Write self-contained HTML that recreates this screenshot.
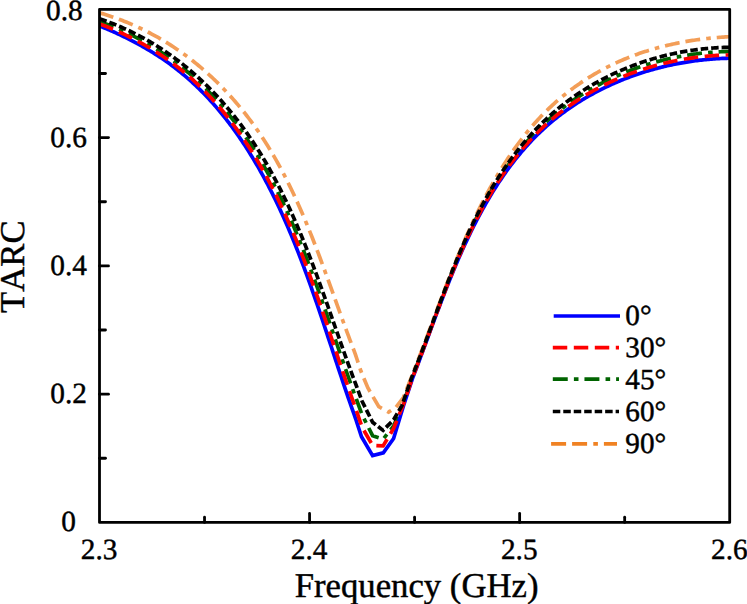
<!DOCTYPE html>
<html><head><meta charset="utf-8"><title>TARC</title>
<style>html,body{margin:0;padding:0;background:#fff;}svg{display:block;}</style>
</head><body>
<svg width="747" height="604" viewBox="0 0 747 604">
<rect width="747" height="604" fill="#ffffff"/>
<defs><clipPath id="ax"><rect x="99.50" y="9.35" width="630.20" height="513.05"/></clipPath></defs>
<g clip-path="url(#ax)" fill="none" stroke-width="3.70" stroke-linejoin="miter">
<path d="M99.50,12.75 L100.94,13.18 L102.38,13.61 L103.82,14.05 L105.25,14.50 L106.69,14.96 L108.13,15.43 L109.57,15.91 L111.01,16.39 L112.45,16.88 L113.89,17.39 L115.32,17.90 L116.76,18.42 L118.20,18.95 L119.64,19.49 L121.08,20.03 L122.52,20.59 L123.95,21.16 L125.39,21.73 L126.83,22.31 L128.27,22.91 L129.71,23.51 L131.15,24.13 L132.59,24.75 L134.03,25.38 L135.46,26.02 L136.90,26.68 L138.34,27.34 L139.78,28.01 L141.22,28.70 L142.66,29.39 L144.09,30.09 L145.53,30.81 L146.97,31.53 L148.41,32.27 L149.85,33.01 L151.29,33.77 L152.73,34.54 L154.16,35.32 L155.60,36.11 L157.04,36.92 L158.48,37.73 L159.92,38.56 L161.36,39.40 L162.80,40.25 L164.24,41.11 L165.67,41.98 L167.11,42.87 L168.55,43.77 L169.99,44.68 L171.43,45.61 L172.87,46.54 L174.30,47.49 L175.74,48.46 L177.18,49.43 L178.62,50.42 L180.06,51.43 L181.50,52.44 L182.94,53.47 L184.37,54.52 L185.81,55.57 L187.25,56.64 L188.69,57.73 L190.13,58.83 L191.57,59.94 L193.01,61.07 L194.44,62.22 L195.88,63.37 L197.32,64.55 L198.76,65.74 L200.20,66.94 L201.64,68.16 L203.07,69.39 L204.51,70.65 L205.95,71.91 L207.39,73.20 L208.83,74.50 L210.27,75.81 L211.71,77.15 L213.15,78.50 L214.58,79.87 L216.02,81.25 L217.46,82.66 L218.90,84.08 L220.34,85.52 L221.78,86.98 L223.22,88.46 L224.65,89.96 L226.09,91.48 L227.53,93.01 L228.97,94.57 L230.41,96.15 L231.85,97.75 L233.28,99.37 L234.72,101.02 L236.16,102.68 L237.60,104.37 L239.04,106.08 L240.48,107.82 L241.92,109.58 L243.35,111.36 L244.79,113.17 L246.23,115.00 L247.67,116.86 L249.11,118.75 L250.55,120.67 L251.99,122.61 L253.43,124.58 L254.86,126.59 L256.30,128.62 L257.74,130.68 L259.18,132.78 L260.62,134.91 L262.06,137.07 L263.49,139.27 L264.93,141.50 L266.37,143.77 L267.81,146.07 L269.25,148.41 L270.69,150.78 L272.13,153.20 L273.56,155.65 L275.00,158.14 L276.44,160.67 L277.88,163.24 L279.32,165.85 L280.76,168.50 L282.20,171.20 L283.63,173.93 L285.07,176.71 L286.51,179.53 L287.95,182.40 L289.39,185.31 L290.83,188.27 L292.26,191.27 L293.70,194.32 L295.14,197.41 L296.58,200.55 L298.02,203.73 L299.46,206.96 L300.90,210.24 L302.33,213.56 L303.77,216.93 L305.21,220.34 L306.65,223.80 L308.09,227.29 L309.53,230.84 L310.97,234.42 L312.40,238.05 L313.84,241.72 L315.28,245.42 L316.72,249.17 L318.16,252.94 L319.60,256.75 L321.04,260.59 L322.48,264.46 L323.91,268.36 L325.35,272.28 L326.79,276.22 L328.23,280.18 L329.67,284.16 L331.11,288.14 L332.55,292.14 L333.98,296.14 L335.42,300.14 L336.86,304.14 L338.30,308.14 L339.74,312.13 L341.18,316.10 L342.62,320.07 L344.05,324.01 L345.49,327.93 L346.93,331.83 L348.37,335.70 L349.81,339.54 L351.25,343.35 L352.68,347.12 L354.12,350.85 L355.56,354.87 L357.00,359.24 L360.80,370.80 L367.80,387.80 L378.80,406.70 L388.60,412.10 L396.00,407.30 L403.40,397.50 L404.00,395.97 L405.49,392.19 L406.97,388.41 L408.46,384.63 L409.95,380.85 L411.44,377.07 L412.92,373.31 L414.41,369.53 L415.90,365.72 L417.38,361.87 L418.87,358.00 L420.36,354.11 L421.85,350.19 L423.33,346.26 L424.82,342.31 L426.31,338.35 L427.80,334.37 L429.28,330.39 L430.77,326.40 L432.26,322.42 L433.74,318.43 L435.23,314.44 L436.72,310.47 L438.21,306.50 L439.69,302.55 L441.18,298.61 L442.67,294.69 L444.15,290.80 L445.64,286.92 L447.13,283.07 L448.62,279.25 L450.10,275.45 L451.59,271.69 L453.08,267.96 L454.56,264.27 L456.05,260.61 L457.54,256.99 L459.03,253.40 L460.51,249.86 L462.00,246.35 L463.49,242.89 L464.98,239.47 L466.46,236.08 L467.95,232.75 L469.44,229.45 L470.93,226.19 L472.41,222.98 L473.90,219.82 L475.39,216.69 L476.87,213.61 L478.36,210.57 L479.85,207.57 L481.33,204.61 L482.82,201.70 L484.31,198.82 L485.80,195.99 L487.28,193.20 L488.77,190.44 L490.26,187.73 L491.75,185.06 L493.23,182.42 L494.72,179.82 L496.21,177.27 L497.69,174.74 L499.18,172.26 L500.67,169.82 L502.16,167.41 L503.64,165.04 L505.13,162.70 L506.62,160.40 L508.11,158.14 L509.59,155.91 L511.08,153.71 L512.57,151.56 L514.05,149.43 L515.54,147.34 L517.03,145.28 L518.52,143.26 L520.00,141.27 L521.49,139.31 L522.98,137.38 L524.46,135.49 L525.95,133.62 L527.44,131.79 L528.93,129.98 L530.41,128.21 L531.90,126.47 L533.39,124.75 L534.88,123.06 L536.36,121.40 L537.85,119.77 L539.34,118.17 L540.82,116.59 L542.31,115.05 L543.80,113.52 L545.28,112.03 L546.77,110.56 L548.26,109.11 L549.75,107.69 L551.23,106.29 L552.72,104.92 L554.21,103.57 L555.70,102.24 L557.18,100.93 L558.67,99.65 L560.16,98.38 L561.64,97.14 L563.13,95.92 L564.62,94.71 L566.11,93.53 L567.59,92.36 L569.08,91.21 L570.57,90.08 L572.05,88.97 L573.54,87.87 L575.03,86.79 L576.52,85.73 L578.00,84.68 L579.49,83.66 L580.98,82.64 L582.47,81.65 L583.95,80.66 L585.44,79.70 L586.93,78.75 L588.41,77.81 L589.90,76.89 L591.39,75.98 L592.88,75.09 L594.36,74.21 L595.85,73.34 L597.34,72.49 L598.83,71.65 L600.31,70.83 L601.80,70.01 L603.29,69.22 L604.77,68.43 L606.26,67.66 L607.75,66.90 L609.24,66.15 L610.72,65.41 L612.21,64.69 L613.70,63.98 L615.18,63.28 L616.67,62.59 L618.16,61.91 L619.65,61.25 L621.13,60.59 L622.62,59.95 L624.11,59.32 L625.60,58.70 L627.08,58.10 L628.57,57.50 L630.06,56.91 L631.54,56.34 L633.03,55.77 L634.52,55.22 L636.00,54.67 L637.49,54.14 L638.98,53.61 L640.47,53.10 L641.95,52.60 L643.44,52.10 L644.93,51.61 L646.42,51.14 L647.90,50.67 L649.39,50.21 L650.88,49.76 L652.37,49.32 L653.85,48.89 L655.34,48.47 L656.83,48.05 L658.31,47.65 L659.80,47.25 L661.29,46.86 L662.77,46.48 L664.26,46.11 L665.75,45.74 L667.24,45.38 L668.72,45.04 L670.21,44.69 L671.70,44.36 L673.19,44.03 L674.67,43.72 L676.16,43.40 L677.65,43.10 L679.13,42.80 L680.62,42.51 L682.11,42.23 L683.60,41.96 L685.08,41.69 L686.57,41.43 L688.06,41.17 L689.54,40.93 L691.03,40.69 L692.52,40.45 L694.01,40.23 L695.49,40.01 L696.98,39.79 L698.47,39.59 L699.96,39.39 L701.44,39.19 L702.93,39.01 L704.42,38.83 L705.90,38.65 L707.39,38.48 L708.88,38.32 L710.37,38.17 L711.85,38.02 L713.34,37.87 L714.83,37.74 L716.32,37.60 L717.80,37.48 L719.29,37.36 L720.78,37.25 L722.26,37.14 L723.75,37.04 L725.24,36.94 L726.73,36.85 L728.21,36.77 L729.70,36.69" stroke="#f39e58" stroke-dasharray="14.9 5.95 14.9 6.1 4.6 5.97" stroke-dashoffset="0.4"/>
<path d="M99.50,21.53 L100.94,22.05 L102.38,22.58 L103.82,23.11 L105.25,23.65 L106.69,24.20 L108.13,24.76 L109.57,25.33 L111.01,25.91 L112.45,26.50 L113.89,27.09 L115.32,27.70 L116.76,28.31 L118.20,28.93 L119.64,29.56 L121.08,30.20 L122.52,30.85 L123.95,31.51 L125.39,32.18 L126.83,32.86 L128.27,33.55 L129.71,34.25 L131.15,34.96 L132.59,35.68 L134.03,36.40 L135.46,37.14 L136.90,37.89 L138.34,38.65 L139.78,39.42 L141.22,40.20 L142.66,40.99 L144.09,41.79 L145.53,42.61 L146.97,43.43 L148.41,44.27 L149.85,45.12 L151.29,45.97 L152.73,46.84 L154.16,47.73 L155.60,48.62 L157.04,49.53 L158.48,50.45 L159.92,51.38 L161.36,52.32 L162.80,53.28 L164.24,54.25 L165.67,55.23 L167.11,56.23 L168.55,57.24 L169.99,58.27 L171.43,59.30 L172.87,60.36 L174.30,61.42 L175.74,62.50 L177.18,63.60 L178.62,64.71 L180.06,65.84 L181.50,66.98 L182.94,68.14 L184.37,69.31 L185.81,70.50 L187.25,71.71 L188.69,72.93 L190.13,74.17 L191.57,75.43 L193.01,76.70 L194.44,77.99 L195.88,79.30 L197.32,80.62 L198.76,81.97 L200.20,83.33 L201.64,84.71 L203.07,86.10 L204.51,87.52 L205.95,88.96 L207.39,90.41 L208.83,91.88 L210.27,93.38 L211.71,94.89 L213.15,96.42 L214.58,97.98 L216.02,99.55 L217.46,101.15 L218.90,102.76 L220.34,104.40 L221.78,106.06 L223.22,107.74 L224.65,109.45 L226.09,111.17 L227.53,112.92 L228.97,114.70 L230.41,116.50 L231.85,118.32 L233.28,120.17 L234.72,122.04 L236.16,123.93 L237.60,125.86 L239.04,127.81 L240.48,129.78 L241.92,131.79 L243.35,133.82 L244.79,135.88 L246.23,137.97 L247.67,140.09 L249.11,142.23 L250.55,144.41 L251.99,146.62 L253.43,148.86 L254.86,151.13 L256.30,153.44 L257.74,155.78 L259.18,158.15 L260.62,160.56 L262.06,163.00 L263.49,165.47 L264.93,167.98 L266.37,170.53 L267.81,173.12 L269.25,175.74 L270.69,178.40 L272.13,181.10 L273.56,183.84 L275.00,186.62 L276.44,189.44 L277.88,192.30 L279.32,195.20 L280.76,198.14 L282.20,201.13 L283.63,204.16 L285.07,207.23 L286.51,210.34 L287.95,213.50 L289.39,216.71 L290.83,219.96 L292.26,223.25 L293.70,226.59 L295.14,229.97 L296.58,233.40 L298.02,236.87 L299.46,240.39 L300.90,243.95 L302.33,247.55 L303.77,251.20 L305.21,254.89 L306.65,258.63 L308.09,262.40 L309.53,266.22 L310.97,270.07 L312.40,273.97 L313.84,277.90 L315.28,281.86 L316.72,285.86 L318.16,289.88 L319.60,293.94 L321.04,298.03 L322.48,302.14 L323.91,306.27 L325.35,310.42 L326.79,314.59 L328.23,318.77 L329.67,322.96 L331.11,327.16 L332.55,331.37 L333.98,335.58 L335.42,339.79 L336.86,343.99 L338.30,348.18 L339.74,352.37 L341.18,356.54 L342.62,360.70 L344.05,364.83 L345.49,368.95 L346.93,373.04 L348.37,377.10 L349.81,381.13 L351.25,385.13 L352.68,389.09 L354.12,393.02 L355.56,396.92 L357.00,400.99 L362.10,414.80 L372.60,435.70 L383.10,439.20 L393.60,426.00 L404.00,401.39 L405.49,397.04 L406.97,392.68 L408.46,388.33 L409.95,383.97 L411.44,379.62 L412.92,375.53 L414.41,371.76 L415.90,367.95 L417.38,364.11 L418.87,360.24 L420.36,356.33 L421.85,352.40 L423.33,348.44 L424.82,344.47 L426.31,340.47 L427.80,336.47 L429.28,332.45 L430.77,328.44 L432.26,324.42 L433.74,320.40 L435.23,316.39 L436.72,312.39 L438.21,308.40 L439.69,304.43 L441.18,300.48 L442.67,296.55 L444.15,292.65 L445.64,288.78 L447.13,284.94 L448.62,281.14 L450.10,277.37 L451.59,273.64 L453.08,269.96 L454.56,266.31 L456.05,262.71 L457.54,259.15 L459.03,255.64 L460.51,252.17 L462.00,248.75 L463.49,245.38 L464.98,242.06 L466.46,238.78 L467.95,235.55 L469.44,232.38 L470.93,229.25 L472.41,226.16 L473.90,223.13 L475.39,220.14 L476.87,217.20 L478.36,214.31 L479.85,211.47 L481.33,208.67 L482.82,205.91 L484.31,203.20 L485.80,200.53 L487.28,197.91 L488.77,195.33 L490.26,192.79 L491.75,190.29 L493.23,187.84 L494.72,185.42 L496.21,183.05 L497.69,180.71 L499.18,178.40 L500.67,176.14 L502.16,173.91 L503.64,171.72 L505.13,169.56 L506.62,167.44 L508.11,165.35 L509.59,163.30 L511.08,161.28 L512.57,159.29 L514.05,157.33 L515.54,155.40 L517.03,153.51 L518.52,151.64 L520.00,149.81 L521.49,148.00 L522.98,146.22 L524.46,144.47 L525.95,142.75 L527.44,141.06 L528.93,139.39 L530.41,137.75 L531.90,136.14 L533.39,134.55 L534.88,132.99 L536.36,131.46 L537.85,129.95 L539.34,128.46 L540.82,127.00 L542.31,125.56 L543.80,124.15 L545.28,122.75 L546.77,121.38 L548.26,120.04 L549.75,118.71 L551.23,117.41 L552.72,116.13 L554.21,114.86 L555.70,113.62 L557.18,112.40 L558.67,111.20 L560.16,110.01 L561.64,108.85 L563.13,107.70 L564.62,106.57 L566.11,105.46 L567.59,104.36 L569.08,103.28 L570.57,102.22 L572.05,101.17 L573.54,100.14 L575.03,99.12 L576.52,98.12 L578.00,97.14 L579.49,96.17 L580.98,95.21 L582.47,94.27 L583.95,93.34 L585.44,92.43 L586.93,91.53 L588.41,90.64 L589.90,89.76 L591.39,88.90 L592.88,88.05 L594.36,87.22 L595.85,86.39 L597.34,85.58 L598.83,84.78 L600.31,84.00 L601.80,83.22 L603.29,82.46 L604.77,81.70 L606.26,80.96 L607.75,80.23 L609.24,79.51 L610.72,78.81 L612.21,78.11 L613.70,77.42 L615.18,76.75 L616.67,76.08 L618.16,75.43 L619.65,74.78 L621.13,74.15 L622.62,73.52 L624.11,72.91 L625.60,72.31 L627.08,71.71 L628.57,71.13 L630.06,70.55 L631.54,69.99 L633.03,69.43 L634.52,68.89 L636.00,68.35 L637.49,67.82 L638.98,67.31 L640.47,66.80 L641.95,66.30 L643.44,65.81 L644.93,65.32 L646.42,64.85 L647.90,64.39 L649.39,63.93 L650.88,63.49 L652.37,63.05 L653.85,62.62 L655.34,62.20 L656.83,61.79 L658.31,61.38 L659.80,60.99 L661.29,60.60 L662.77,60.23 L664.26,59.86 L665.75,59.49 L667.24,59.14 L668.72,58.80 L670.21,58.46 L671.70,58.13 L673.19,57.81 L674.67,57.50 L676.16,57.20 L677.65,56.90 L679.13,56.61 L680.62,56.33 L682.11,56.06 L683.60,55.80 L685.08,55.54 L686.57,55.29 L688.06,55.05 L689.54,54.82 L691.03,54.59 L692.52,54.38 L694.01,54.17 L695.49,53.97 L696.98,53.77 L698.47,53.59 L699.96,53.41 L701.44,53.24 L702.93,53.08 L704.42,52.92 L705.90,52.78 L707.39,52.64 L708.88,52.51 L710.37,52.38 L711.85,52.27 L713.34,52.16 L714.83,52.06 L716.32,51.96 L717.80,51.88 L719.29,51.80 L720.78,51.73 L722.26,51.67 L723.75,51.62 L725.24,51.57 L726.73,51.53 L728.21,51.50 L729.70,51.48" stroke="#006400" stroke-dasharray="14.95 6.15 4.6 5.95"/>
<path d="M99.50,25.97 L100.94,26.54 L102.38,27.13 L103.82,27.71 L105.25,28.31 L106.69,28.91 L108.13,29.52 L109.57,30.13 L111.01,30.76 L112.45,31.39 L113.89,32.03 L115.32,32.67 L116.76,33.33 L118.20,33.99 L119.64,34.66 L121.08,35.33 L122.52,36.02 L123.95,36.71 L125.39,37.41 L126.83,38.12 L128.27,38.84 L129.71,39.57 L131.15,40.31 L132.59,41.05 L134.03,41.81 L135.46,42.57 L136.90,43.34 L138.34,44.13 L139.78,44.92 L141.22,45.72 L142.66,46.53 L144.09,47.35 L145.53,48.19 L146.97,49.03 L148.41,49.88 L149.85,50.75 L151.29,51.62 L152.73,52.51 L154.16,53.41 L155.60,54.32 L157.04,55.24 L158.48,56.18 L159.92,57.12 L161.36,58.08 L162.80,59.05 L164.24,60.04 L165.67,61.04 L167.11,62.05 L168.55,63.08 L169.99,64.12 L171.43,65.18 L172.87,66.25 L174.30,67.33 L175.74,68.44 L177.18,69.56 L178.62,70.69 L180.06,71.84 L181.50,73.01 L182.94,74.20 L184.37,75.41 L185.81,76.63 L187.25,77.87 L188.69,79.13 L190.13,80.41 L191.57,81.71 L193.01,83.03 L194.44,84.36 L195.88,85.72 L197.32,87.10 L198.76,88.49 L200.20,89.91 L201.64,91.35 L203.07,92.80 L204.51,94.28 L205.95,95.78 L207.39,97.30 L208.83,98.85 L210.27,100.41 L211.71,102.00 L213.15,103.61 L214.58,105.24 L216.02,106.90 L217.46,108.58 L218.90,110.28 L220.34,112.01 L221.78,113.76 L223.22,115.54 L224.65,117.34 L226.09,119.16 L227.53,121.02 L228.97,122.89 L230.41,124.80 L231.85,126.73 L233.28,128.68 L234.72,130.67 L236.16,132.68 L237.60,134.72 L239.04,136.79 L240.48,138.89 L241.92,141.01 L243.35,143.17 L244.79,145.35 L246.23,147.57 L247.67,149.82 L249.11,152.10 L250.55,154.40 L251.99,156.75 L253.43,159.12 L254.86,161.53 L256.30,163.97 L257.74,166.44 L259.18,168.95 L260.62,171.49 L262.06,174.07 L263.49,176.69 L264.93,179.34 L266.37,182.03 L267.81,184.76 L269.25,187.53 L270.69,190.34 L272.13,193.18 L273.56,196.07 L275.00,199.00 L276.44,201.97 L277.88,204.99 L279.32,208.04 L280.76,211.14 L282.20,214.29 L283.63,217.48 L285.07,220.71 L286.51,223.99 L287.95,227.31 L289.39,230.68 L290.83,234.10 L292.26,237.56 L293.70,241.07 L295.14,244.62 L296.58,248.23 L298.02,251.88 L299.46,255.57 L300.90,259.31 L302.33,263.09 L303.77,266.92 L305.21,270.79 L306.65,274.71 L308.09,278.66 L309.53,282.66 L310.97,286.70 L312.40,290.78 L313.84,294.89 L315.28,299.04 L316.72,303.22 L318.16,307.43 L319.60,311.67 L321.04,315.93 L322.48,320.22 L323.91,324.53 L325.35,328.86 L326.79,333.20 L328.23,337.56 L329.67,341.92 L331.11,346.29 L332.55,350.67 L333.98,355.04 L335.42,359.41 L336.86,363.77 L338.30,368.12 L339.74,372.45 L341.18,376.78 L342.62,381.08 L344.05,385.36 L345.49,389.62 L346.93,393.84 L348.37,398.04 L349.81,402.21 L351.25,406.34 L352.68,410.43 L354.12,414.49 L355.56,418.52 L357.00,422.95 L361.50,436.80 L372.60,455.60 L383.30,452.90 L393.60,438.50 L403.50,405.70 L404.00,404.19 L405.49,399.70 L406.97,395.21 L408.46,390.71 L409.95,386.22 L411.44,381.73 L412.92,377.25 L414.41,373.37 L415.90,369.47 L417.38,365.54 L418.87,361.58 L420.36,357.60 L421.85,353.61 L423.33,349.60 L424.82,345.58 L426.31,341.55 L427.80,337.52 L429.28,333.48 L430.77,329.46 L432.26,325.43 L433.74,321.42 L435.23,317.43 L436.72,313.45 L438.21,309.49 L439.69,305.56 L441.18,301.65 L442.67,297.77 L444.15,293.92 L445.64,290.11 L447.13,286.33 L448.62,282.59 L450.10,278.89 L451.59,275.23 L453.08,271.61 L454.56,268.04 L456.05,264.51 L457.54,261.03 L459.03,257.59 L460.51,254.20 L462.00,250.85 L463.49,247.55 L464.98,244.30 L466.46,241.10 L467.95,237.95 L469.44,234.84 L470.93,231.77 L472.41,228.76 L473.90,225.79 L475.39,222.86 L476.87,219.98 L478.36,217.15 L479.85,214.36 L481.33,211.61 L482.82,208.91 L484.31,206.25 L485.80,203.63 L487.28,201.05 L488.77,198.51 L490.26,196.02 L491.75,193.56 L493.23,191.14 L494.72,188.76 L496.21,186.42 L497.69,184.11 L499.18,181.85 L500.67,179.62 L502.16,177.42 L503.64,175.26 L505.13,173.14 L506.62,171.05 L508.11,168.99 L509.59,166.97 L511.08,164.98 L512.57,163.02 L514.05,161.10 L515.54,159.20 L517.03,157.34 L518.52,155.51 L520.00,153.71 L521.49,151.93 L522.98,150.19 L524.46,148.48 L525.95,146.79 L527.44,145.14 L528.93,143.51 L530.41,141.90 L531.90,140.33 L533.39,138.78 L534.88,137.26 L536.36,135.76 L537.85,134.29 L539.34,132.85 L540.82,131.43 L542.31,130.03 L543.80,128.66 L545.28,127.31 L546.77,125.98 L548.26,124.68 L549.75,123.40 L551.23,122.14 L552.72,120.90 L554.21,119.67 L555.70,118.47 L557.18,117.29 L558.67,116.13 L560.16,114.98 L561.64,113.86 L563.13,112.75 L564.62,111.65 L566.11,110.58 L567.59,109.52 L569.08,108.48 L570.57,107.45 L572.05,106.44 L573.54,105.44 L575.03,104.46 L576.52,103.49 L578.00,102.54 L579.49,101.60 L580.98,100.68 L582.47,99.77 L583.95,98.87 L585.44,97.99 L586.93,97.12 L588.41,96.26 L589.90,95.41 L591.39,94.58 L592.88,93.76 L594.36,92.95 L595.85,92.16 L597.34,91.37 L598.83,90.60 L600.31,89.84 L601.80,89.09 L603.29,88.35 L604.77,87.63 L606.26,86.91 L607.75,86.21 L609.24,85.51 L610.72,84.83 L612.21,84.16 L613.70,83.49 L615.18,82.84 L616.67,82.20 L618.16,81.57 L619.65,80.95 L621.13,80.33 L622.62,79.73 L624.11,79.14 L625.60,78.55 L627.08,77.98 L628.57,77.42 L630.06,76.86 L631.54,76.31 L633.03,75.78 L634.52,75.25 L636.00,74.73 L637.49,74.22 L638.98,73.72 L640.47,73.23 L641.95,72.75 L643.44,72.27 L644.93,71.81 L646.42,71.35 L647.90,70.90 L649.39,70.46 L650.88,70.03 L652.37,69.60 L653.85,69.19 L655.34,68.78 L656.83,68.38 L658.31,67.99 L659.80,67.61 L661.29,67.23 L662.77,66.87 L664.26,66.51 L665.75,66.16 L667.24,65.82 L668.72,65.48 L670.21,65.15 L671.70,64.83 L673.19,64.52 L674.67,64.22 L676.16,63.92 L677.65,63.64 L679.13,63.35 L680.62,63.08 L682.11,62.82 L683.60,62.56 L685.08,62.31 L686.57,62.06 L688.06,61.83 L689.54,61.60 L691.03,61.38 L692.52,61.17 L694.01,60.96 L695.49,60.76 L696.98,60.57 L698.47,60.39 L699.96,60.21 L701.44,60.04 L702.93,59.88 L704.42,59.73 L705.90,59.58 L707.39,59.44 L708.88,59.31 L710.37,59.19 L711.85,59.07 L713.34,58.96 L714.83,58.86 L716.32,58.76 L717.80,58.67 L719.29,58.59 L720.78,58.52 L722.26,58.45 L723.75,58.39 L725.24,58.34 L726.73,58.29 L728.21,58.26 L729.70,58.23" stroke="#0000ff"/>
<path d="M99.50,23.82 L100.94,24.37 L102.38,24.92 L103.82,25.49 L105.25,26.05 L106.69,26.63 L108.13,27.22 L109.57,27.81 L111.01,28.41 L112.45,29.02 L113.89,29.64 L115.32,30.26 L116.76,30.90 L118.20,31.54 L119.64,32.19 L121.08,32.85 L122.52,33.52 L123.95,34.20 L125.39,34.88 L126.83,35.58 L128.27,36.28 L129.71,37.00 L131.15,37.72 L132.59,38.45 L134.03,39.19 L135.46,39.94 L136.90,40.71 L138.34,41.48 L139.78,42.26 L141.22,43.05 L142.66,43.85 L144.09,44.66 L145.53,45.49 L146.97,46.32 L148.41,47.17 L149.85,48.02 L151.29,48.89 L152.73,49.77 L154.16,50.66 L155.60,51.56 L157.04,52.48 L158.48,53.40 L159.92,54.34 L161.36,55.30 L162.80,56.26 L164.24,57.24 L165.67,58.23 L167.11,59.24 L168.55,60.25 L169.99,61.29 L171.43,62.33 L172.87,63.40 L174.30,64.47 L175.74,65.57 L177.18,66.67 L178.62,67.80 L180.06,68.94 L181.50,70.09 L182.94,71.27 L184.37,72.46 L185.81,73.66 L187.25,74.89 L188.69,76.13 L190.13,77.39 L191.57,78.67 L193.01,79.97 L194.44,81.28 L195.88,82.61 L197.32,83.96 L198.76,85.33 L200.20,86.72 L201.64,88.13 L203.07,89.56 L204.51,91.01 L205.95,92.48 L207.39,93.97 L208.83,95.48 L210.27,97.01 L211.71,98.56 L213.15,100.13 L214.58,101.73 L216.02,103.34 L217.46,104.98 L218.90,106.64 L220.34,108.33 L221.78,110.04 L223.22,111.77 L224.65,113.52 L226.09,115.30 L227.53,117.10 L228.97,118.93 L230.41,120.78 L231.85,122.66 L233.28,124.56 L234.72,126.49 L236.16,128.45 L237.60,130.43 L239.04,132.44 L240.48,134.48 L241.92,136.55 L243.35,138.65 L244.79,140.77 L246.23,142.92 L247.67,145.11 L249.11,147.32 L250.55,149.57 L251.99,151.85 L253.43,154.16 L254.86,156.50 L256.30,158.87 L257.74,161.28 L259.18,163.72 L260.62,166.20 L262.06,168.71 L263.49,171.26 L264.93,173.85 L266.37,176.47 L267.81,179.13 L269.25,181.83 L270.69,184.56 L272.13,187.34 L273.56,190.15 L275.00,193.01 L276.44,195.91 L277.88,198.85 L279.32,201.83 L280.76,204.85 L282.20,207.92 L283.63,211.03 L285.07,214.19 L286.51,217.39 L287.95,220.63 L289.39,223.92 L290.83,227.26 L292.26,230.64 L293.70,234.06 L295.14,237.53 L296.58,241.05 L298.02,244.62 L299.46,248.22 L300.90,251.88 L302.33,255.57 L303.77,259.32 L305.21,263.10 L306.65,266.93 L308.09,270.80 L309.53,274.71 L310.97,278.65 L312.40,282.64 L313.84,286.67 L315.28,290.72 L316.72,294.82 L318.16,298.94 L319.60,303.09 L321.04,307.27 L322.48,311.47 L323.91,315.69 L325.35,319.94 L326.79,324.20 L328.23,328.47 L329.67,332.75 L331.11,337.03 L332.55,341.33 L333.98,345.62 L335.42,349.91 L336.86,354.20 L338.30,358.47 L339.74,362.74 L341.18,366.99 L342.62,371.22 L344.05,375.43 L345.49,379.62 L346.93,383.78 L348.37,387.91 L349.81,392.01 L351.25,396.08 L352.68,400.11 L354.12,404.10 L355.56,408.07 L357.00,412.32 L362.10,427.30 L372.60,445.40 L383.10,445.90 L393.60,428.50 L404.00,402.83 L405.49,398.41 L406.97,393.99 L408.46,389.56 L409.95,385.13 L411.44,380.71 L412.92,376.42 L414.41,372.59 L415.90,368.74 L417.38,364.85 L418.87,360.93 L420.36,356.99 L421.85,353.02 L423.33,349.04 L424.82,345.04 L426.31,341.03 L427.80,337.01 L429.28,332.99 L430.77,328.96 L432.26,324.94 L433.74,320.93 L435.23,316.92 L436.72,312.93 L438.21,308.96 L439.69,305.01 L441.18,301.08 L442.67,297.18 L444.15,293.31 L445.64,289.47 L447.13,285.66 L448.62,281.89 L450.10,278.15 L451.59,274.46 L453.08,270.81 L454.56,267.20 L456.05,263.64 L457.54,260.12 L459.03,256.64 L460.51,253.22 L462.00,249.84 L463.49,246.50 L464.98,243.22 L466.46,239.98 L467.95,236.79 L469.44,233.65 L470.93,230.55 L472.41,227.50 L473.90,224.50 L475.39,221.55 L476.87,218.64 L478.36,215.78 L479.85,212.96 L481.33,210.19 L482.82,207.46 L484.31,204.77 L485.80,202.13 L487.28,199.53 L488.77,196.97 L490.26,194.46 L491.75,191.98 L493.23,189.54 L494.72,187.15 L496.21,184.79 L497.69,182.46 L499.18,180.18 L500.67,177.93 L502.16,175.72 L503.64,173.55 L505.13,171.41 L506.62,169.30 L508.11,167.23 L509.59,165.19 L511.08,163.19 L512.57,161.21 L514.05,159.27 L515.54,157.36 L517.03,155.49 L518.52,153.64 L520.00,151.82 L521.49,150.03 L522.98,148.27 L524.46,146.54 L525.95,144.84 L527.44,143.16 L528.93,141.52 L530.41,139.90 L531.90,138.30 L533.39,136.74 L534.88,135.20 L536.36,133.68 L537.85,132.19 L539.34,130.72 L540.82,129.28 L542.31,127.87 L543.80,126.47 L545.28,125.10 L546.77,123.76 L548.26,122.43 L549.75,121.13 L551.23,119.85 L552.72,118.59 L554.21,117.35 L555.70,116.13 L557.18,114.92 L558.67,113.74 L560.16,112.58 L561.64,111.43 L563.13,110.30 L564.62,109.19 L566.11,108.10 L567.59,107.02 L569.08,105.96 L570.57,104.92 L572.05,103.89 L573.54,102.88 L575.03,101.88 L576.52,100.89 L578.00,99.93 L579.49,98.97 L580.98,98.03 L582.47,97.11 L583.95,96.19 L585.44,95.30 L586.93,94.41 L588.41,93.54 L589.90,92.68 L591.39,91.83 L592.88,91.00 L594.36,90.18 L595.85,89.37 L597.34,88.57 L598.83,87.79 L600.31,87.01 L601.80,86.25 L603.29,85.50 L604.77,84.76 L606.26,84.03 L607.75,83.32 L609.24,82.61 L610.72,81.91 L612.21,81.23 L613.70,80.56 L615.18,79.89 L616.67,79.24 L618.16,78.60 L619.65,77.96 L621.13,77.34 L622.62,76.73 L624.11,76.12 L625.60,75.53 L627.08,74.95 L628.57,74.37 L630.06,73.81 L631.54,73.25 L633.03,72.71 L634.52,72.17 L636.00,71.64 L637.49,71.13 L638.98,70.62 L640.47,70.12 L641.95,69.63 L643.44,69.14 L644.93,68.67 L646.42,68.21 L647.90,67.75 L649.39,67.30 L650.88,66.86 L652.37,66.43 L653.85,66.01 L655.34,65.60 L656.83,65.19 L658.31,64.79 L659.80,64.41 L661.29,64.03 L662.77,63.65 L664.26,63.29 L665.75,62.93 L667.24,62.59 L668.72,62.25 L670.21,61.92 L671.70,61.59 L673.19,61.28 L674.67,60.97 L676.16,60.67 L677.65,60.38 L679.13,60.09 L680.62,59.82 L682.11,59.55 L683.60,59.29 L685.08,59.03 L686.57,58.79 L688.06,58.55 L689.54,58.32 L691.03,58.10 L692.52,57.88 L694.01,57.67 L695.49,57.48 L696.98,57.28 L698.47,57.10 L699.96,56.92 L701.44,56.75 L702.93,56.59 L704.42,56.44 L705.90,56.29 L707.39,56.15 L708.88,56.02 L710.37,55.89 L711.85,55.78 L713.34,55.67 L714.83,55.57 L716.32,55.47 L717.80,55.39 L719.29,55.31 L720.78,55.23 L722.26,55.17 L723.75,55.11 L725.24,55.06 L726.73,55.02 L728.21,54.99 L729.70,54.96" stroke="#ff0000" stroke-dasharray="14.45 6.55"/>
<path d="M99.50,18.81 L100.94,19.29 L102.38,19.79 L103.82,20.29 L105.25,20.80 L106.69,21.32 L108.13,21.85 L109.57,22.39 L111.01,22.94 L112.45,23.50 L113.89,24.07 L115.32,24.65 L116.76,25.23 L118.20,25.83 L119.64,26.44 L121.08,27.06 L122.52,27.69 L123.95,28.33 L125.39,28.98 L126.83,29.64 L128.27,30.31 L129.71,30.99 L131.15,31.68 L132.59,32.38 L134.03,33.09 L135.46,33.82 L136.90,34.55 L138.34,35.29 L139.78,36.05 L141.22,36.82 L142.66,37.60 L144.09,38.39 L145.53,39.19 L146.97,40.00 L148.41,40.83 L149.85,41.66 L151.29,42.51 L152.73,43.37 L154.16,44.25 L155.60,45.13 L157.04,46.03 L158.48,46.94 L159.92,47.86 L161.36,48.79 L162.80,49.74 L164.24,50.70 L165.67,51.68 L167.11,52.66 L168.55,53.66 L169.99,54.68 L171.43,55.70 L172.87,56.75 L174.30,57.80 L175.74,58.87 L177.18,59.95 L178.62,61.05 L180.06,62.16 L181.50,63.28 L182.94,64.42 L184.37,65.58 L185.81,66.75 L187.25,67.93 L188.69,69.13 L190.13,70.34 L191.57,71.58 L193.01,72.82 L194.44,74.08 L195.88,75.36 L197.32,76.65 L198.76,77.97 L200.20,79.29 L201.64,80.64 L203.07,82.00 L204.51,83.38 L205.95,84.77 L207.39,86.18 L208.83,87.61 L210.27,89.06 L211.71,90.53 L213.15,92.02 L214.58,93.52 L216.02,95.05 L217.46,96.59 L218.90,98.15 L220.34,99.74 L221.78,101.34 L223.22,102.96 L224.65,104.61 L226.09,106.28 L227.53,107.97 L228.97,109.68 L230.41,111.41 L231.85,113.16 L233.28,114.94 L234.72,116.75 L236.16,118.57 L237.60,120.43 L239.04,122.30 L240.48,124.21 L241.92,126.13 L243.35,128.09 L244.79,130.07 L246.23,132.08 L247.67,134.12 L249.11,136.19 L250.55,138.29 L251.99,140.42 L253.43,142.58 L254.86,144.77 L256.30,146.99 L257.74,149.24 L259.18,151.53 L260.62,153.85 L262.06,156.21 L263.49,158.60 L264.93,161.02 L266.37,163.48 L267.81,165.98 L269.25,168.51 L270.69,171.08 L272.13,173.69 L273.56,176.34 L275.00,179.03 L276.44,181.75 L277.88,184.52 L279.32,187.32 L280.76,190.17 L282.20,193.06 L283.63,195.99 L285.07,198.97 L286.51,201.98 L287.95,205.04 L289.39,208.14 L290.83,211.29 L292.26,214.48 L293.70,217.71 L295.14,220.99 L296.58,224.31 L298.02,227.68 L299.46,231.08 L300.90,234.54 L302.33,238.03 L303.77,241.57 L305.21,245.15 L306.65,248.78 L308.09,252.44 L309.53,256.14 L310.97,259.88 L312.40,263.66 L313.84,267.48 L315.28,271.33 L316.72,275.22 L318.16,279.13 L319.60,283.08 L321.04,287.05 L322.48,291.05 L323.91,295.07 L325.35,299.11 L326.79,303.18 L328.23,307.25 L329.67,311.34 L331.11,315.44 L332.55,319.54 L333.98,323.65 L335.42,327.76 L336.86,331.86 L338.30,335.97 L339.74,340.06 L341.18,344.14 L342.62,348.21 L344.05,352.25 L345.49,356.28 L346.93,360.28 L348.37,364.26 L349.81,368.21 L351.25,372.13 L352.68,376.02 L354.12,379.87 L355.56,383.68 L357.00,387.52 L362.10,401.20 L372.60,422.30 L383.10,430.40 L393.60,419.80 L401.90,405.70 L404.00,399.67 L405.49,395.40 L406.97,391.14 L408.46,386.87 L409.95,382.60 L411.44,378.33 L412.92,374.48 L414.41,370.77 L415.90,367.03 L417.38,363.24 L418.87,359.41 L420.36,355.55 L421.85,351.66 L423.33,347.73 L424.82,343.79 L426.31,339.82 L427.80,335.83 L429.28,331.82 L430.77,327.81 L432.26,323.79 L433.74,319.77 L435.23,315.75 L436.72,311.73 L438.21,307.73 L439.69,303.74 L441.18,299.76 L442.67,295.80 L444.15,291.87 L445.64,287.97 L447.13,284.09 L448.62,280.25 L450.10,276.44 L451.59,272.67 L453.08,268.94 L454.56,265.25 L456.05,261.60 L457.54,258.00 L459.03,254.44 L460.51,250.93 L462.00,247.46 L463.49,244.05 L464.98,240.68 L466.46,237.36 L467.95,234.09 L469.44,230.87 L470.93,227.70 L472.41,224.57 L473.90,221.50 L475.39,218.48 L476.87,215.50 L478.36,212.57 L479.85,209.69 L481.33,206.86 L482.82,204.07 L484.31,201.33 L485.80,198.64 L487.28,195.99 L488.77,193.38 L490.26,190.82 L491.75,188.29 L493.23,185.82 L494.72,183.38 L496.21,180.98 L497.69,178.62 L499.18,176.29 L500.67,174.01 L502.16,171.76 L503.64,169.55 L505.13,167.37 L506.62,165.23 L508.11,163.12 L509.59,161.05 L511.08,159.01 L512.57,157.00 L514.05,155.02 L515.54,153.07 L517.03,151.16 L518.52,149.27 L520.00,147.42 L521.49,145.59 L522.98,143.79 L524.46,142.02 L525.95,140.28 L527.44,138.56 L528.93,136.87 L530.41,135.21 L531.90,133.58 L533.39,131.96 L534.88,130.38 L536.36,128.82 L537.85,127.28 L539.34,125.77 L540.82,124.28 L542.31,122.82 L543.80,121.38 L545.28,119.96 L546.77,118.57 L548.26,117.19 L549.75,115.84 L551.23,114.51 L552.72,113.20 L554.21,111.91 L555.70,110.65 L557.18,109.40 L558.67,108.17 L560.16,106.96 L561.64,105.78 L563.13,104.60 L564.62,103.45 L566.11,102.32 L567.59,101.20 L569.08,100.10 L570.57,99.01 L572.05,97.94 L573.54,96.89 L575.03,95.86 L576.52,94.84 L578.00,93.83 L579.49,92.84 L580.98,91.86 L582.47,90.90 L583.95,89.95 L585.44,89.02 L586.93,88.10 L588.41,87.19 L589.90,86.30 L591.39,85.42 L592.88,84.56 L594.36,83.70 L595.85,82.86 L597.34,82.03 L598.83,81.22 L600.31,80.41 L601.80,79.62 L603.29,78.84 L604.77,78.07 L606.26,77.31 L607.75,76.57 L609.24,75.83 L610.72,75.11 L612.21,74.40 L613.70,73.70 L615.18,73.01 L616.67,72.33 L618.16,71.66 L619.65,71.01 L621.13,70.36 L622.62,69.72 L624.11,69.09 L625.60,68.48 L627.08,67.87 L628.57,67.27 L630.06,66.69 L631.54,66.11 L633.03,65.54 L634.52,64.99 L636.00,64.44 L637.49,63.90 L638.98,63.37 L640.47,62.85 L641.95,62.34 L643.44,61.84 L644.93,61.35 L646.42,60.87 L647.90,60.40 L649.39,59.93 L650.88,59.48 L652.37,59.03 L653.85,58.59 L655.34,58.17 L656.83,57.75 L658.31,57.33 L659.80,56.93 L661.29,56.54 L662.77,56.15 L664.26,55.78 L665.75,55.41 L667.24,55.05 L668.72,54.70 L670.21,54.36 L671.70,54.02 L673.19,53.70 L674.67,53.38 L676.16,53.07 L677.65,52.77 L679.13,52.48 L680.62,52.19 L682.11,51.92 L683.60,51.65 L685.08,51.39 L686.57,51.14 L688.06,50.90 L689.54,50.66 L691.03,50.43 L692.52,50.21 L694.01,50.00 L695.49,49.80 L696.98,49.61 L698.47,49.42 L699.96,49.24 L701.44,49.07 L702.93,48.91 L704.42,48.75 L705.90,48.61 L707.39,48.47 L708.88,48.34 L710.37,48.21 L711.85,48.10 L713.34,47.99 L714.83,47.89 L716.32,47.80 L717.80,47.72 L719.29,47.64 L720.78,47.57 L722.26,47.51 L723.75,47.46 L725.24,47.42 L726.73,47.38 L728.21,47.36 L729.70,47.34" stroke="#000000" stroke-dasharray="7.5 2.97"/>
</g>
<g stroke="#000" stroke-width="2.80" stroke-linecap="round" fill="none">
<path d="M99.50,394.14 H108.50"/>
<path d="M99.50,265.88 H108.50"/>
<path d="M99.50,137.61 H108.50"/>
<path d="M99.50,458.27 H105.50"/>
<path d="M99.50,330.01 H105.50"/>
<path d="M99.50,201.74 H105.50"/>
<path d="M99.50,73.48 H105.50"/>
<path d="M309.57,522.40 V513.40"/>
<path d="M519.63,522.40 V513.40"/>
<path d="M204.53,522.40 V517.20"/>
<path d="M414.60,522.40 V517.20"/>
<path d="M624.67,522.40 V517.20"/>
</g>
<rect x="99.5" y="9.35" width="630.20" height="513.05" fill="none" stroke="#000" stroke-width="2.8" stroke-linejoin="round"/>
<g text-rendering="geometricPrecision" font-family="'Liberation Serif', 'Times New Roman', serif" fill="#000" stroke="#000" stroke-width="0.45" stroke-linejoin="round">
<text x="64.3" y="20.20" font-size="29.3" text-anchor="middle">0.8</text>
<text x="68.55" y="147.41" font-size="29.3" text-anchor="middle">0.6</text>
<text x="68.55" y="275.28" font-size="29.3" text-anchor="middle">0.4</text>
<text x="68.55" y="402.94" font-size="29.3" text-anchor="middle">0.2</text>
<text x="68.55" y="531.00" font-size="29.3" text-anchor="middle">0</text>
<text x="99.10" y="558.6" font-size="29.3" text-anchor="middle">2.3</text>
<text x="309.17" y="558.6" font-size="29.3" text-anchor="middle">2.4</text>
<text x="519.23" y="558.6" font-size="29.3" text-anchor="middle">2.5</text>
<text x="729.30" y="558.6" font-size="29.3" text-anchor="middle">2.6</text>
<text x="416.6" y="596.6" font-size="34.7" text-anchor="middle">Frequency (GHz)</text>
<text transform="translate(24.2,266.7) rotate(-90)" font-size="34.7" text-anchor="middle" style="font-kerning:none">TARC</text>
<path d="M553.7,316.0 H620.0" stroke="#0000ff" stroke-width="3.7" fill="none"/>
<text x="625.3" y="325.3" font-size="29.2">0°</text>
<path d="M552.8,347.7 H619.0" stroke="#ff0000" stroke-width="3.7" fill="none" stroke-dasharray="14.45 6.55"/>
<text x="625.3" y="357.4" font-size="29.2">30°</text>
<path d="M552.8,379.1 H619.0" stroke="#006400" stroke-width="3.7" fill="none" stroke-dasharray="14.95 6.15 4.6 5.95"/>
<text x="625.3" y="389.3" font-size="29.2">45°</text>
<path d="M552.8,411.5 H619.0" stroke="#000000" stroke-width="3.7" fill="none" stroke-dasharray="7.5 2.97"/>
<text x="625.3" y="421.3" font-size="29.2">60°</text>
<path d="M551.1,443.9 H617.0" stroke="#f08223" stroke-width="3.7" fill="none" stroke-dasharray="15 6 15 6.2 4.6 6"/>
<text x="625.3" y="453.3" font-size="29.2">90°</text>
</g>
</svg>
</body></html>
